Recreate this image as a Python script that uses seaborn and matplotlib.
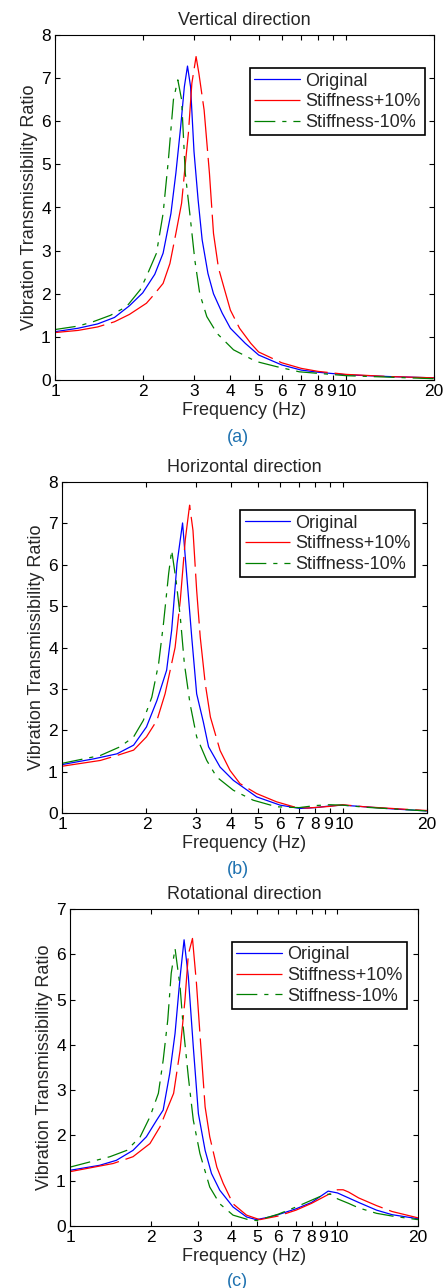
import matplotlib
matplotlib.use("Agg")
import matplotlib.pyplot as plt
import matplotlib.transforms as mtransforms
import seaborn as sns
import numpy as np

# ---------------- data ----------------
# (a) Vertical direction
fa_orig = [1, 1.2, 1.4, 1.6, 1.8, 2.0, 2.2, 2.35, 2.5, 2.6, 2.7, 2.78, 2.85, 2.92, 3.0, 3.1, 3.2, 3.35, 3.5, 3.75, 4.0, 4.5, 5, 6, 7, 8, 10, 14, 20]
ya_orig = [1.12, 1.2, 1.3, 1.45, 1.72, 2.02, 2.45, 2.94, 3.86, 4.8, 5.87, 6.8, 7.28, 6.8, 5.3, 4.17, 3.25, 2.47, 2.0, 1.55, 1.2, 0.85, 0.58, 0.35, 0.23, 0.18, 0.12, 0.08, 0.05]
fa_plus = [1, 1.2, 1.4, 1.6, 1.8, 2.06, 2.18, 2.35, 2.48, 2.6, 2.72, 2.8, 2.87, 2.95, 3.05, 3.12, 3.25, 3.39, 3.5, 3.64, 3.8, 4.0, 4.3, 4.7, 5, 6, 7, 8, 10, 14, 20]
ya_plus = [1.1, 1.15, 1.23, 1.35, 1.52, 1.78, 1.97, 2.24, 2.7, 3.4, 4.1, 5.0, 5.72, 6.88, 7.5, 7.1, 6.26, 4.79, 3.4, 2.6, 2.15, 1.62, 1.2, 0.85, 0.65, 0.4, 0.27, 0.2, 0.13, 0.08, 0.05]
fa_minus = [1, 1.2, 1.35, 1.55, 1.76, 1.96, 2.06, 2.23, 2.35, 2.45, 2.55, 2.64, 2.72, 2.8, 2.91, 3.02, 3.14, 3.32, 3.6, 4.1, 4.9, 5.76, 6.9, 10, 20]
ya_minus = [1.17, 1.25, 1.35, 1.5, 1.7, 2.09, 2.4, 2.94, 3.86, 5.1, 6.5, 6.96, 6.5, 4.8, 3.79, 2.78, 2.0, 1.47, 1.08, 0.7, 0.43, 0.31, 0.19, 0.1, 0.03]

# (b) Horizontal direction
fb_orig = [1, 1.3, 1.57, 1.8, 2.0, 2.18, 2.36, 2.46, 2.57, 2.69, 2.78, 2.9, 3.02, 3.19, 3.33, 3.66, 4.08, 4.94, 5.99, 7.05, 8, 9, 10, 12, 15, 20]
yb_orig = [1.17, 1.31, 1.43, 1.64, 2.08, 2.72, 3.45, 4.42, 6.03, 7.01, 5.79, 4.25, 2.88, 2.2, 1.6, 1.11, 0.79, 0.39, 0.19, 0.11, 0.13, 0.17, 0.19, 0.15, 0.1, 0.05]
fb_plus = [1, 1.37, 1.57, 1.8, 2.0, 2.18, 2.33, 2.43, 2.53, 2.64, 2.75, 2.85, 2.93, 3.02, 3.11, 3.24, 3.38, 3.66, 3.97, 4.31, 4.94, 5.82, 6.7, 7.5, 9, 10, 12, 15, 20]
yb_plus = [1.13, 1.27, 1.39, 1.52, 1.84, 2.24, 2.88, 3.45, 4.0, 5.14, 6.6, 7.44, 6.83, 5.38, 4.25, 3.13, 2.32, 1.51, 1.03, 0.71, 0.47, 0.27, 0.15, 0.12, 0.16, 0.2, 0.15, 0.11, 0.06]
fb_minus = [1, 1.37, 1.61, 1.8, 1.95, 2.09, 2.21, 2.3, 2.4, 2.46, 2.55, 2.64, 2.73, 2.86, 3.02, 3.28, 3.56, 4.08, 4.8, 5.82, 7, 8, 9, 10, 12, 15, 20]
yb_minus = [1.2, 1.39, 1.6, 1.84, 2.24, 2.8, 3.61, 4.58, 5.79, 6.35, 5.62, 4.74, 3.61, 2.64, 1.84, 1.27, 0.87, 0.55, 0.31, 0.15, 0.13, 0.18, 0.2, 0.19, 0.14, 0.1, 0.05]

# (c) Rotational direction
fc_orig = [1, 1.29, 1.49, 1.72, 1.93, 2.11, 2.23, 2.36, 2.47, 2.58, 2.67, 2.77, 2.89, 3.02, 3.2, 3.38, 3.63, 4.07, 4.57, 4.98, 5.58, 6, 7, 8, 9.23, 10, 11, 12, 14, 16, 20]
yc_orig = [1.23, 1.34, 1.45, 1.67, 1.97, 2.34, 2.56, 3.37, 4.25, 5.5, 6.32, 5.5, 3.96, 2.48, 1.67, 1.16, 0.79, 0.42, 0.2, 0.14, 0.2, 0.25, 0.38, 0.52, 0.77, 0.73, 0.62, 0.52, 0.35, 0.25, 0.16]
fc_plus = [1, 1.45, 1.72, 1.99, 2.17, 2.3, 2.44, 2.58, 2.69, 2.77, 2.87, 2.97, 3.06, 3.2, 3.33, 3.54, 3.74, 4.07, 4.57, 5.12, 6, 7, 8, 9, 10, 10.5, 11, 12, 14, 16, 20]
yc_plus = [1.2, 1.38, 1.53, 1.82, 2.19, 2.56, 2.93, 3.88, 4.99, 6.0, 6.35, 5.36, 4.25, 2.63, 1.97, 1.3, 0.94, 0.49, 0.24, 0.14, 0.22, 0.35, 0.5, 0.66, 0.8, 0.8, 0.75, 0.62, 0.45, 0.32, 0.18]
fc_minus = [1, 1.41, 1.63, 1.83, 1.99, 2.14, 2.23, 2.32, 2.39, 2.47, 2.58, 2.65, 2.77, 2.89, 3.06, 3.33, 3.63, 4.07, 4.7, 5, 6, 7, 8, 9, 9.5, 10, 11, 12, 14, 16, 20]
yc_minus = [1.3, 1.53, 1.67, 1.97, 2.41, 2.93, 3.66, 4.55, 5.58, 6.13, 5.28, 4.4, 3.29, 2.34, 1.6, 0.86, 0.49, 0.24, 0.13, 0.12, 0.26, 0.42, 0.57, 0.7, 0.7, 0.6, 0.5, 0.4, 0.28, 0.22, 0.14]

series_labels = ["Original", "Stiffness+10%", "Stiffness-10%"]
titles = ["Vertical direction", "Horizontal direction", "Rotational direction"]
captions = ["(a)", "(b)", "(c)"]
x_ticks = [1, 2, 3, 4, 5, 6, 7, 8, 9, 10, 20]
x_tick_labels = ["1", "2", "3", "4", "5", "6", "7", "8", "9", "10", "20"]
y_max = [8, 8, 7]

# ---------------- style ----------------
sns.set_style("ticks")
plt.rcParams['font.family'] = ['Liberation Sans', 'DejaVu Sans']
plt.rcParams['lines.scale_dashes'] = False

W, H = 448, 1288
fig = plt.figure(figsize=(W / 100, H / 100), dpi=100)

# axes boxes in pixels: left, top, right, bottom
boxes = [(55, 35, 434, 380), (62, 482, 427, 813), (70, 909, 418, 1226)]
legend_anchor = [(0.976, 0.904), (0.967, 0.915), (0.968, 0.896)]
caption_y = [437, 870, 1281]

styles = [
    dict(color="#0000ff", linestyle="-"),
    dict(color="#ff0000", linestyle=(0, (36, 5))),
    dict(color="#008000", linestyle=(0, (15, 5, 3, 5))),
]

data = [
    [(fa_orig, ya_orig), (fa_plus, ya_plus), (fa_minus, ya_minus)],
    [(fb_orig, yb_orig), (fb_plus, yb_plus), (fb_minus, yb_minus)],
    [(fc_orig, yc_orig), (fc_plus, yc_plus), (fc_minus, yc_minus)],
]

FS = 13
TFS = 12.5
for i, (l, t, r, b) in enumerate(boxes):
    ax = fig.add_axes([l / W, 1 - b / H, (r - l) / W, (b - t) / H])
    for (f, y), lab, st in zip(data[i], series_labels, styles):
        sns.lineplot(x=f, y=y, ax=ax, label=lab, sort=False, estimator=None,
                     lw=0.9, **st)
    ax.set_xscale("log")
    ax.set_xlim(1, 20)
    ax.set_ylim(0, y_max[i])
    ax.set_xticks(x_ticks)
    ax.set_xticklabels(x_tick_labels)
    ax.xaxis.set_minor_locator(matplotlib.ticker.NullLocator())
    ax.set_yticks(range(0, y_max[i] + 1))
    ax.tick_params(direction="in", top=True, right=True, length=3.5,
                   width=0.8, labelsize=TFS, pad=3, colors="black")
    # nudge the crowded "9" and "10" labels apart slightly
    xl = ax.get_xticklabels()
    xl[8].set_transform(xl[8].get_transform() +
                        mtransforms.ScaledTranslation(-2 / 100, 0, fig.dpi_scale_trans))
    xl[9].set_transform(xl[9].get_transform() +
                        mtransforms.ScaledTranslation(1.5 / 100, 0, fig.dpi_scale_trans))
    for s in ax.spines.values():
        s.set_visible(True)
        s.set_color("black")
        s.set_linewidth(0.8)
    ax.set_title(titles[i], fontsize=FS, pad=7)
    ax.set_xlabel("Frequency (Hz)", fontsize=FS, labelpad=2)
    ax.set_ylabel("Vibration Transmissibility Ratio", fontsize=FS, labelpad=2)
    leg = ax.legend(loc="upper right", bbox_to_anchor=legend_anchor[i],
                    frameon=True, fancybox=False, framealpha=1,
                    edgecolor="black", fontsize=FS, handlelength=2.5,
                    borderpad=0.25, labelspacing=0.2, handletextpad=0.3,
                    borderaxespad=0)
    leg.get_frame().set_linewidth(1.2)
    fig.text(0.53, 1 - caption_y[i] / H, captions[i], ha="center",
             va="center", fontsize=FS, color="#1f72b0")

fig.savefig("out.png", dpi=100)
